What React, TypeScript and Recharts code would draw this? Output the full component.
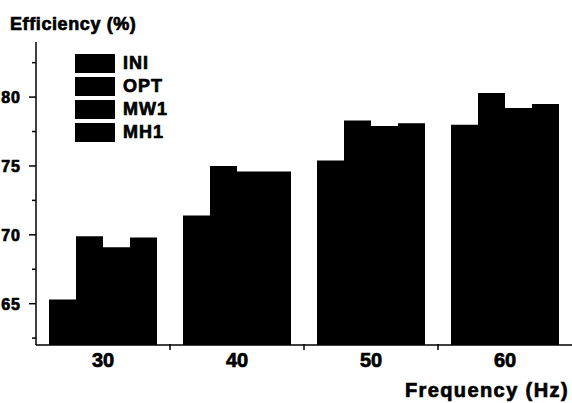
import React from "react";
import { BarChart, Bar, XAxis, YAxis, Legend } from "recharts";

const freqs = ["30", "40", "50", "60"];
const ini = [65.3, 71.4, 75.4, 78.0];
const opt = [69.9, 75.0, 78.3, 80.3];
const mw1 = [69.1, 74.6, 77.9, 79.2];
const mh1 = [69.8, 74.6, 78.1, 79.5];
const seriesNames = ["INI", "OPT", "MW1", "MH1"];
const yTicks = [62.5, 65, 67.5, 70, 72.5, 75, 77.5, 80, 82.5];

const data = freqs.map((f, i) => ({
  freq: f,
  INI: ini[i],
  OPT: opt[i],
  MW1: mw1[i],
  MH1: mh1[i],
}));

const W = 572;
const H = 403;
const Y_AXIS_W = 36;
const PLOT_W = W - Y_AXIS_W;

const FONT = "'Liberation Sans', Arial, sans-serif";

const boldText = {
  fontFamily: FONT,
  fontWeight: 700,
  fill: "#000",
  stroke: "#000",
  strokeWidth: 0.7,
};

function YTick(props: any) {
  const { x, y, payload } = props;
  const major = payload.value % 5 === 0;
  return (
    <g>
      <line x1={x - (major ? 7 : 4)} x2={x} y1={y} y2={y} stroke="#000" strokeWidth={1.5} />
      {major && (
        <text x={x - 15} y={y} dy="0.38em" textAnchor="end" fontSize={16} letterSpacing={1} style={boldText}>
          {payload.value}
        </text>
      )}
    </g>
  );
}

// label at the band centre, tick mark on the boundary to the next band
function XTick(props: any) {
  const { x, y, payload, index } = props;
  const half = PLOT_W / freqs.length / 2;
  const last = index === freqs.length - 1;
  return (
    <g>
      {!last && <line x1={x + half} x2={x + half} y1={y - 1} y2={y + 5} stroke="#000" strokeWidth={1.5} />}
      <text x={x} y={y + 8} dy="0.71em" textAnchor="middle" fontSize={20} style={boldText}>
        {payload.value}
      </text>
    </g>
  );
}

function LegendBox(props: any) {
  const items = [...(props.payload || [])].sort(
    (a: any, b: any) => seriesNames.indexOf(a.value) - seriesNames.indexOf(b.value)
  );
  return (
    <div style={{ display: "flex", flexDirection: "column" }}>
      {items.map((it: any) => (
        <div key={it.value} style={{ display: "flex", alignItems: "center", height: 23 }}>
          <div style={{ width: 40, height: 19, background: it.color || "#000" }} />
          <span
            style={{
              marginLeft: 8,
              fontFamily: FONT,
              fontWeight: 700,
              fontSize: 18,
              letterSpacing: 1,
              color: "#000",
              WebkitTextStroke: "0.7px #000",
            }}
          >
            {it.value}
          </span>
        </div>
      ))}
    </div>
  );
}

export default function App() {
  return (
    <div style={{ position: "absolute", left: 0, top: 0, width: W, height: H, background: "#fff" }}>
      <BarChart
        width={W}
        height={H}
        data={data}
        margin={{ top: 42, right: 0, left: 0, bottom: 0 }}
        barCategoryGap={13}
        barGap={0}
      >
        <XAxis
          dataKey="freq"
          height={58}
          tickLine={false}
          tickSize={0}
          tickMargin={0}
          axisLine={{ stroke: "#000", strokeWidth: 1.5 }}
          tick={<XTick />}
          label={{
            position: "insideBottomRight",
            content: (p: any) => {
              const vb = p.viewBox;
              return (
                <text
                  x={vb.x + vb.width - 3}
                  y={vb.y + vb.height - 6}
                  textAnchor="end"
                  fontSize={20}
                  letterSpacing={1.4}
                  style={boldText}
                >
                  Frequency (Hz)
                </text>
              );
            },
          }}
        />
        <YAxis
          width={Y_AXIS_W}
          domain={[62, 84]}
          ticks={yTicks}
          interval={0}
          allowDataOverflow
          tickLine={false}
          tickSize={0}
          tickMargin={0}
          axisLine={{ stroke: "#000", strokeWidth: 1.5 }}
          tick={<YTick />}
          label={{
            position: "insideTopLeft",
            content: (p: any) => {
              const vb = p.viewBox;
              return (
                <text x={10} y={vb.y - 12} fontSize={18} letterSpacing={0.6} style={boldText}>
                  Efficiency (%)
                </text>
              );
            },
          }}
        />
        <Legend
          layout="vertical"
          align="center"
          verticalAlign="middle"
          wrapperStyle={{ left: 75, top: 52, width: 120 }}
          content={<LegendBox />}
        />
        {seriesNames.map((s) => (
          <Bar key={s} dataKey={s} fill="#000" isAnimationActive={false} />
        ))}
      </BarChart>
    </div>
  );
}
